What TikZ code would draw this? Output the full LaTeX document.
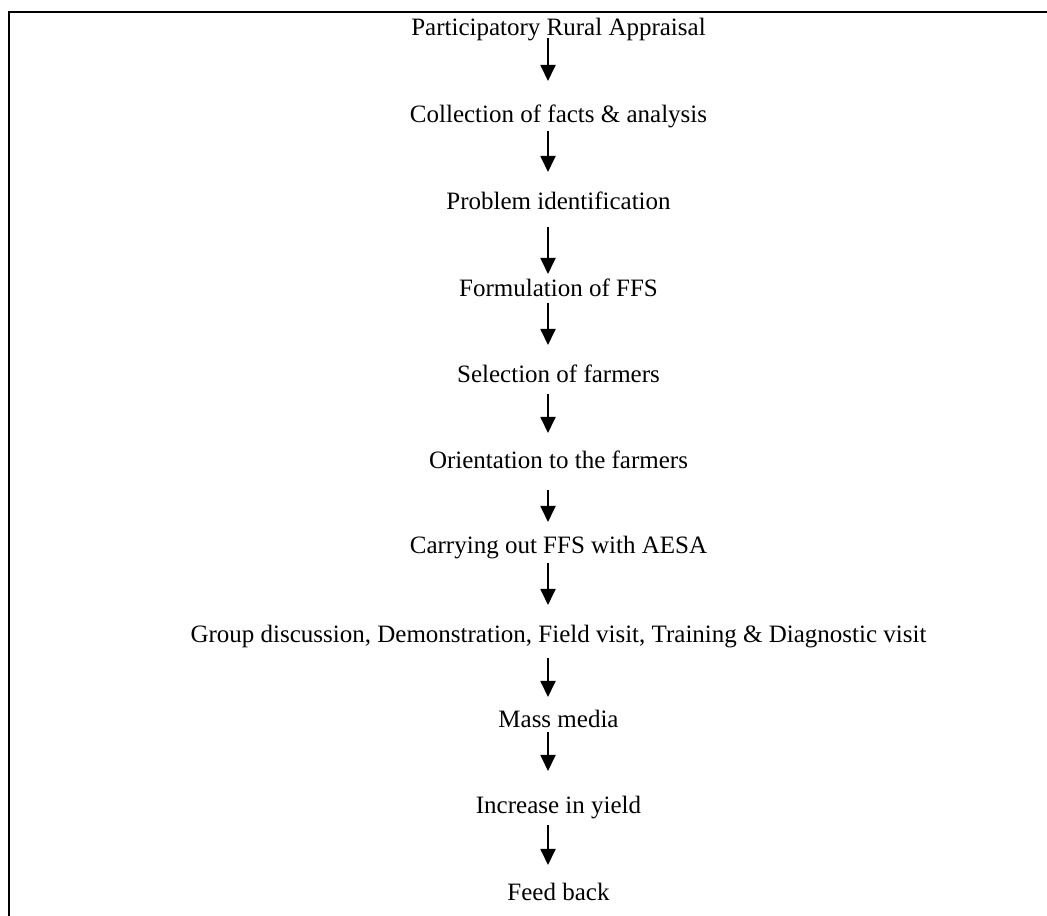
\documentclass[tikz,border=0pt]{standalone}
\usepackage{fontspec}
\setmainfont{Liberation Serif}
\usetikzlibrary{arrows.meta,calc}
\begin{document}
\begin{tikzpicture}[x=0.48pt,y=-0.48pt,
  stepnode/.style={font=\fontsize{12}{14}\selectfont,inner sep=0pt,anchor=base},
  flowarrow/.style={line width=0.9pt,-{Triangle[width=7.2pt,length=7.7pt]}},
  frameline/.style={line width=1pt}]
\useasboundingbox (0,0) rectangle (1047,915);
\draw[frameline] (1047,12) -- (9,12) -- (9,916);
\coordinate (ax) at (548,0);
\node[stepnode] (n1) at (558.5,35) {Participatory Rural Appraisal};
\node[stepnode] (n2) at (558.5,122) {Collection of facts \& analysis};
\node[stepnode] (n3) at (558.5,209) {Problem identification};
\node[stepnode] (n4) at (558.5,296) {Formulation of FFS};
\node[stepnode] (n5) at (558.5,382) {Selection of farmers};
\node[stepnode] (n6) at (558.5,468) {Orientation to the farmers};
\node[stepnode] (n7) at (558.5,553) {Carrying out FFS with AESA};
\node[stepnode] (n8) at (558.5,642) {Group discussion, Demonstration, Field visit, Training \& Diagnostic visit};
\node[stepnode] (n9) at (558.5,727) {Mass media};
\node[stepnode] (n10) at (558.5,813) {Increase in yield};
\node[stepnode] (n11) at (558.5,900) {Feed back};
\foreach \a/\b/\s/\e in {n1/n2/3/41, n2/n3/9/37, n3/n4/18/22, n4/n5/7/37, n5/n6/12/35,
  n6/n7/22/31, n7/n8/10/37, n8/n9/16/30, n9/n10/5/42, n10/n11/12/35}
  \draw[flowarrow] ($(\a.base -| ax)+(0,\s)$) -- ($(\b.base -| ax)+(0,-\e)$);
\end{tikzpicture}
\end{document}
